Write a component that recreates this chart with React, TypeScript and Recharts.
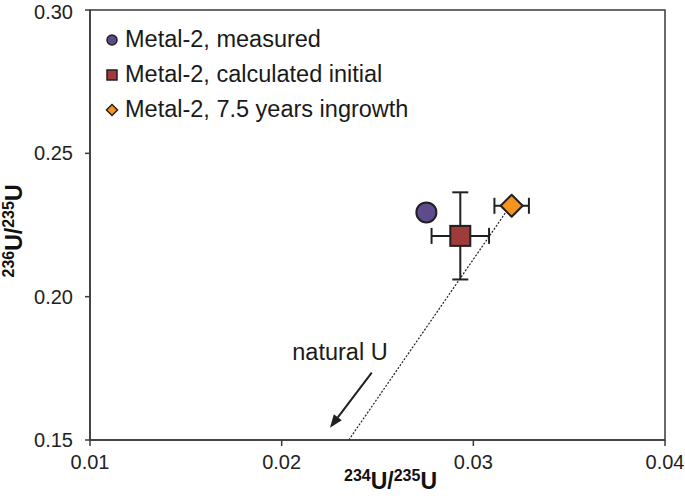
import React from "react";
import {
  ScatterChart,
  Scatter,
  XAxis,
  YAxis,
  ErrorBar,
  ReferenceLine,
  ReferenceArea,
  ReferenceDot,
  Legend,
} from "recharts";

// values
const seriesNames = ["Metal-2, measured", "Metal-2, calculated initial", "Metal-2, 7.5 years ingrowth"];
const seriesColors = ["#5e4b8b", "#9e3b3b", "#f7941d"];
const xValues = [0.02755, 0.02932, 0.032];
const yValues = [0.2294, 0.2212, 0.2317];
const xErrors = [0, 0.0015, 0.0009];
const yErrors = [0, 0.0152, 0];

const ingrowthLineX = [0.0235, 0.0317];
const ingrowthLineY = [0.15, 0.2295];
const arrowX = [0.0247, 0.02252];
const arrowY = [0.1735, 0.1543];
const naturalLabel = { x: 0.02304, y: 0.1808, text: "natural U" };

const xTicks = [0.01, 0.02, 0.03, 0.04];
const yTicks = [0.15, 0.2, 0.25, 0.3];

const INK = "#231f20";
const AXIS = "#3a3a3a";
const FONT = "'Liberation Sans', Arial, Helvetica, sans-serif";

const point = (i: number) => [{ x: xValues[i], y: yValues[i], ex: xErrors[i], ey: yErrors[i] }];

const CircleShape = (p: any) => (
  <circle cx={p.cx} cy={p.cy} r={10} fill={seriesColors[0]} stroke={INK} strokeWidth={2} />
);
const SquareShape = (p: any) => (
  <rect x={p.cx - 10} y={p.cy - 10} width={20} height={20} fill={seriesColors[1]} stroke={INK} strokeWidth={2} />
);
const DiamondShape = (p: any) => (
  <polygon
    points={`${p.cx},${p.cy - 11} ${p.cx + 11},${p.cy} ${p.cx},${p.cy + 11} ${p.cx - 11},${p.cy}`}
    fill={seriesColors[2]}
    stroke={INK}
    strokeWidth={2}
    strokeLinejoin="round"
  />
);

const LegendMarker = ({ i }: { i: number }) => (
  <svg width={14} height={14} style={{ marginRight: 6, flex: "none" }}>
    {i === 0 && <circle cx={7} cy={7} r={5} fill={seriesColors[0]} stroke={INK} strokeWidth={1.5} />}
    {i === 1 && <rect x={2} y={2} width={10} height={10} fill={seriesColors[1]} stroke={INK} strokeWidth={1.5} />}
    {i === 2 && (
      <polygon points="7,1.5 12.5,7 7,12.5 1.5,7" fill={seriesColors[2]} stroke={INK} strokeWidth={1.5} />
    )}
  </svg>
);

const renderLegend = () => (
  <div style={{ fontFamily: FONT, fontSize: 23.5, color: "#1a1a1a" }}>
    {seriesNames.map((name, i) => (
      <div key={name} style={{ display: "flex", alignItems: "center", height: 35, whiteSpace: "nowrap" }}>
        <LegendMarker i={i} />
        <span>{name}</span>
      </div>
    ))}
  </div>
);

const Arrow = (p: any) => {
  const { x1, y1, x2, y2 } = p;
  const ang = Math.atan2(y2 - y1, x2 - x1);
  const len = 13;
  const half = 5;
  const bx = x2 - len * Math.cos(ang);
  const by = y2 - len * Math.sin(ang);
  const nx = -Math.sin(ang) * half;
  const ny = Math.cos(ang) * half;
  return (
    <g>
      <line x1={x1} y1={y1} x2={bx} y2={by} stroke={INK} strokeWidth={2} />
      <polygon points={`${x2},${y2} ${bx + nx},${by + ny} ${bx - nx},${by - ny}`} fill={INK} />
    </g>
  );
};

const TitleSpans = ({ sup1 }: { sup1: string }) => (
  <>
    <tspan fontSize={16} dy={-8}>{sup1}</tspan>
    <tspan fontSize={23} dy={8}>U/</tspan>
    <tspan fontSize={16} dy={-8}>235</tspan>
    <tspan fontSize={23} dy={8}>U</tspan>
  </>
);

const XTitle = ({ viewBox }: any) => {
  const cx = viewBox.x + viewBox.width / 2 + 13;
  return (
    <text x={cx} y={viewBox.y + 49} textAnchor="middle" fontFamily={FONT} fontWeight="bold" fill="#111">
      <TitleSpans sup1="234" />
    </text>
  );
};

const YTitle = ({ viewBox }: any) => {
  const cy = viewBox.y + viewBox.height / 2 + 6;
  const cx = 22;
  return (
    <text
      x={cx}
      y={cy}
      transform={`rotate(-90 ${cx} ${cy})`}
      textAnchor="middle"
      fontFamily={FONT}
      fontWeight="bold"
      fill="#111"
    >
      <TitleSpans sup1="236" />
    </text>
  );
};

export default function App() {
  return (
    <div style={{ position: "absolute", left: 0, top: 0, width: 685, height: 503, background: "#fff" }}>
      <ScatterChart width={685} height={503} margin={{ top: 10, right: 20, bottom: 0, left: 0 }}>
        <XAxis
          type="number"
          dataKey="x"
          domain={[0.01, 0.04]}
          ticks={xTicks}
          tickFormatter={(v: number) => v.toFixed(2)}
          height={63}
          tickSize={6}
          tickMargin={9}
          stroke={AXIS}
          strokeWidth={1.5}
          tick={{ fill: "#222", fontSize: 20, fontFamily: FONT }}
          label={{ content: XTitle }}
        />
        <YAxis
          type="number"
          dataKey="y"
          domain={[0.15, 0.3]}
          ticks={yTicks}
          tickFormatter={(v: number) => v.toFixed(2)}
          width={90}
          tickSize={5}
          tickMargin={12}
          stroke={AXIS}
          strokeWidth={1.5}
          tick={{ fill: "#222", fontSize: 20, fontFamily: FONT }}
          label={{ content: YTitle }}
        />
        <ReferenceArea x1={0.01} x2={0.04} y1={0.15} y2={0.3} fill="none" stroke={AXIS} strokeWidth={1.5} />
        <ReferenceLine
          segment={[
            { x: ingrowthLineX[0], y: ingrowthLineY[0] },
            { x: ingrowthLineX[1], y: ingrowthLineY[1] },
          ]}
          stroke={INK}
          strokeWidth={1.2}
          strokeDasharray="2 1.6"
        />
        <ReferenceLine
          segment={[
            { x: arrowX[0], y: arrowY[0] },
            { x: arrowX[1], y: arrowY[1] },
          ]}
          shape={Arrow}
        />
        <ReferenceDot
          x={naturalLabel.x}
          y={naturalLabel.y}
          r={0}
          fill="none"
          stroke="none"
          label={{ value: naturalLabel.text, position: "center", fontSize: 23.5, fill: "#1a1a1a", fontFamily: FONT }}
        />
        <Scatter name={seriesNames[0]} data={point(0)} shape={CircleShape} isAnimationActive={false} />
        <Scatter name={seriesNames[1]} data={point(1)} shape={SquareShape} isAnimationActive={false}>
          <ErrorBar dataKey="ex" direction="x" width={8} stroke={INK} strokeWidth={2} />
          <ErrorBar dataKey="ey" direction="y" width={8} stroke={INK} strokeWidth={2} />
        </Scatter>
        <Scatter name={seriesNames[2]} data={point(2)} shape={DiamondShape} isAnimationActive={false}>
          <ErrorBar dataKey="ex" direction="x" width={8} stroke={INK} strokeWidth={2} />
        </Scatter>
        <Legend
          layout="vertical"
          align="center"
          verticalAlign="middle"
          content={renderLegend}
          wrapperStyle={{ left: 105, top: 22, width: 360, height: 110 }}
        />
      </ScatterChart>
    </div>
  );
}
